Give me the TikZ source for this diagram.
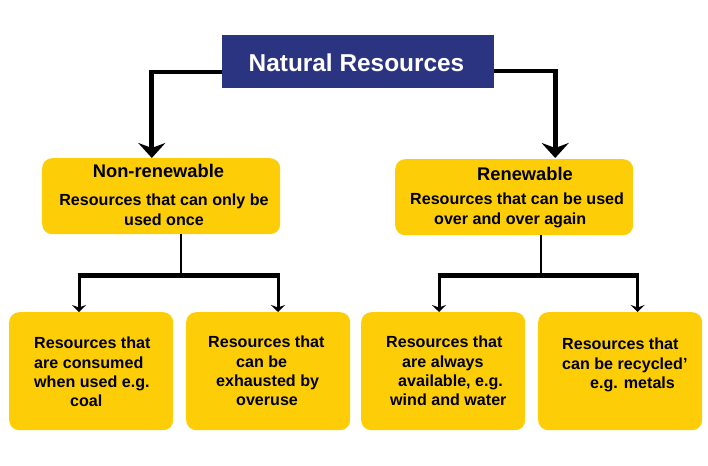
\documentclass[tikz,border=0pt]{standalone}
\usepackage{fontspec}
\setmainfont{Liberation Sans}
\usetikzlibrary{arrows.meta}
\definecolor{navybox}{HTML}{2B3480}
\definecolor{goldbox}{HTML}{FDCE07}
\tikzset{
  titlebox/.style={fill=navybox,text=white,inner sep=0pt,minimum width=272pt,minimum height=53pt,font=\fontsize{24.4}{28}\selectfont\bfseries},
  goldcard/.style={fill=goldbox,rounded corners=10pt,inner sep=0pt,minimum height=#1,anchor=north west},
  midcard/.style={goldcard=76pt,minimum width=238pt},
  lowcard/.style={goldcard=118pt,minimum width=164pt},
  heading/.style={inner sep=0pt,anchor=base,font=\fontsize{18.3}{21}\selectfont\bfseries},
  body/.style={inner sep=0pt,anchor=north west,align=left,font=\fontsize{16.1}{19.2}\selectfont\bfseries},
  bodyc/.style={body,align=center,anchor=north},
  heavy/.style={draw=black,line width=3.5pt},
  heavydown/.style={draw=black,line width=5pt,-{Stealth[length=15pt,width=27pt,inset=5pt]}},
  thinline/.style={draw=black,line width=2pt},
  crossbar/.style={draw=black,line width=5pt},
  lightdown/.style={draw=black,line width=3pt,-{Stealth[length=7pt,width=14pt,inset=2.5pt]}}
}
\begin{document}
\begin{tikzpicture}[x=1pt,y=-1pt]
\useasboundingbox (0,0) rectangle (708,465);
% boxes
\node[titlebox] (title) at (358,61.5) {\raisebox{-10.3pt}[0pt][0pt]{Natural Resources\hspace{3pt}}};
\node[midcard] (nonren) at (42,158) {};
\node[midcard] (ren) at (395,159) {};
\node[lowcard] (a) at (9,312) {};
\node[lowcard] (b) at (186,312) {};
\node[lowcard] (c) at (361,312) {};
\node[lowcard] (d) at (538,312) {};
% texts
\node[heading] (nonrenhead) at (158.5,177) {Non-renewable};
\node[bodyc] (nonrentext) at (164,194) {Resources that can only be\\used once};
\node[heading] (renhead) at (525,180) {Renewable};
\node[body] (rentext) at (410,193) {Resources that can be used\\\hspace*{24pt}over and over again};
\node[body] (atext) at (34,337) {Resources that\\are consumed\\when used e.g.\\\hspace*{36pt}coal};
\node[body] (btext) at (208,336) {Resources that\\\hspace*{28pt}can be\\\hspace*{8pt}exhausted by\\\hspace*{28pt}overuse};
\node[body] (ctext) at (386,336) {Resources that\\\hspace*{16pt}are always\\\hspace*{12pt}available, e.g.\\\hspace*{4pt}wind and water};
\node[body] (dtext) at (562,338) {Resources that\\can be recycled’\\\hspace*{28pt}e.g. metals};
% junctions
\coordinate (jl) at (181,275.5);
\coordinate (la) at (79,275.5);
\coordinate (lb) at (278,275.5);
\coordinate (jr) at (540.7,275.5);
\coordinate (rc) at (439,275.5);
\coordinate (rd) at (637.7,275.5);
% connectors from title
\draw[heavy] ([yshift=-10.5pt]title.west) -- ++(-70,0) coordinate (tl);
\draw[heavydown] ([yshift=1.75pt]tl) -- (tl |- nonren.north);
\draw[heavy] ([yshift=-9.5pt]title.east) -- ++(61,0) coordinate (tr);
\draw[heavydown] ([yshift=1.75pt]tr) -- (tr |- nonren.north);
% lower trees
\draw[thinline] (jl |- nonren.south) -- (jl);
\draw[crossbar] ([xshift=-1.5pt]la) -- ([xshift=1.5pt]lb);
\draw[lightdown] (la) -- (la |- a.north);
\draw[lightdown] (lb) -- (lb |- b.north);
\draw[thinline] (jr |- ren.south) -- (jr);
\draw[crossbar] ([xshift=-1.5pt]rc) -- ([xshift=1.5pt]rd);
\draw[lightdown] (rc) -- (rc |- c.north);
\draw[lightdown] (rd) -- (rd |- d.north);
\end{tikzpicture}
\end{document}
